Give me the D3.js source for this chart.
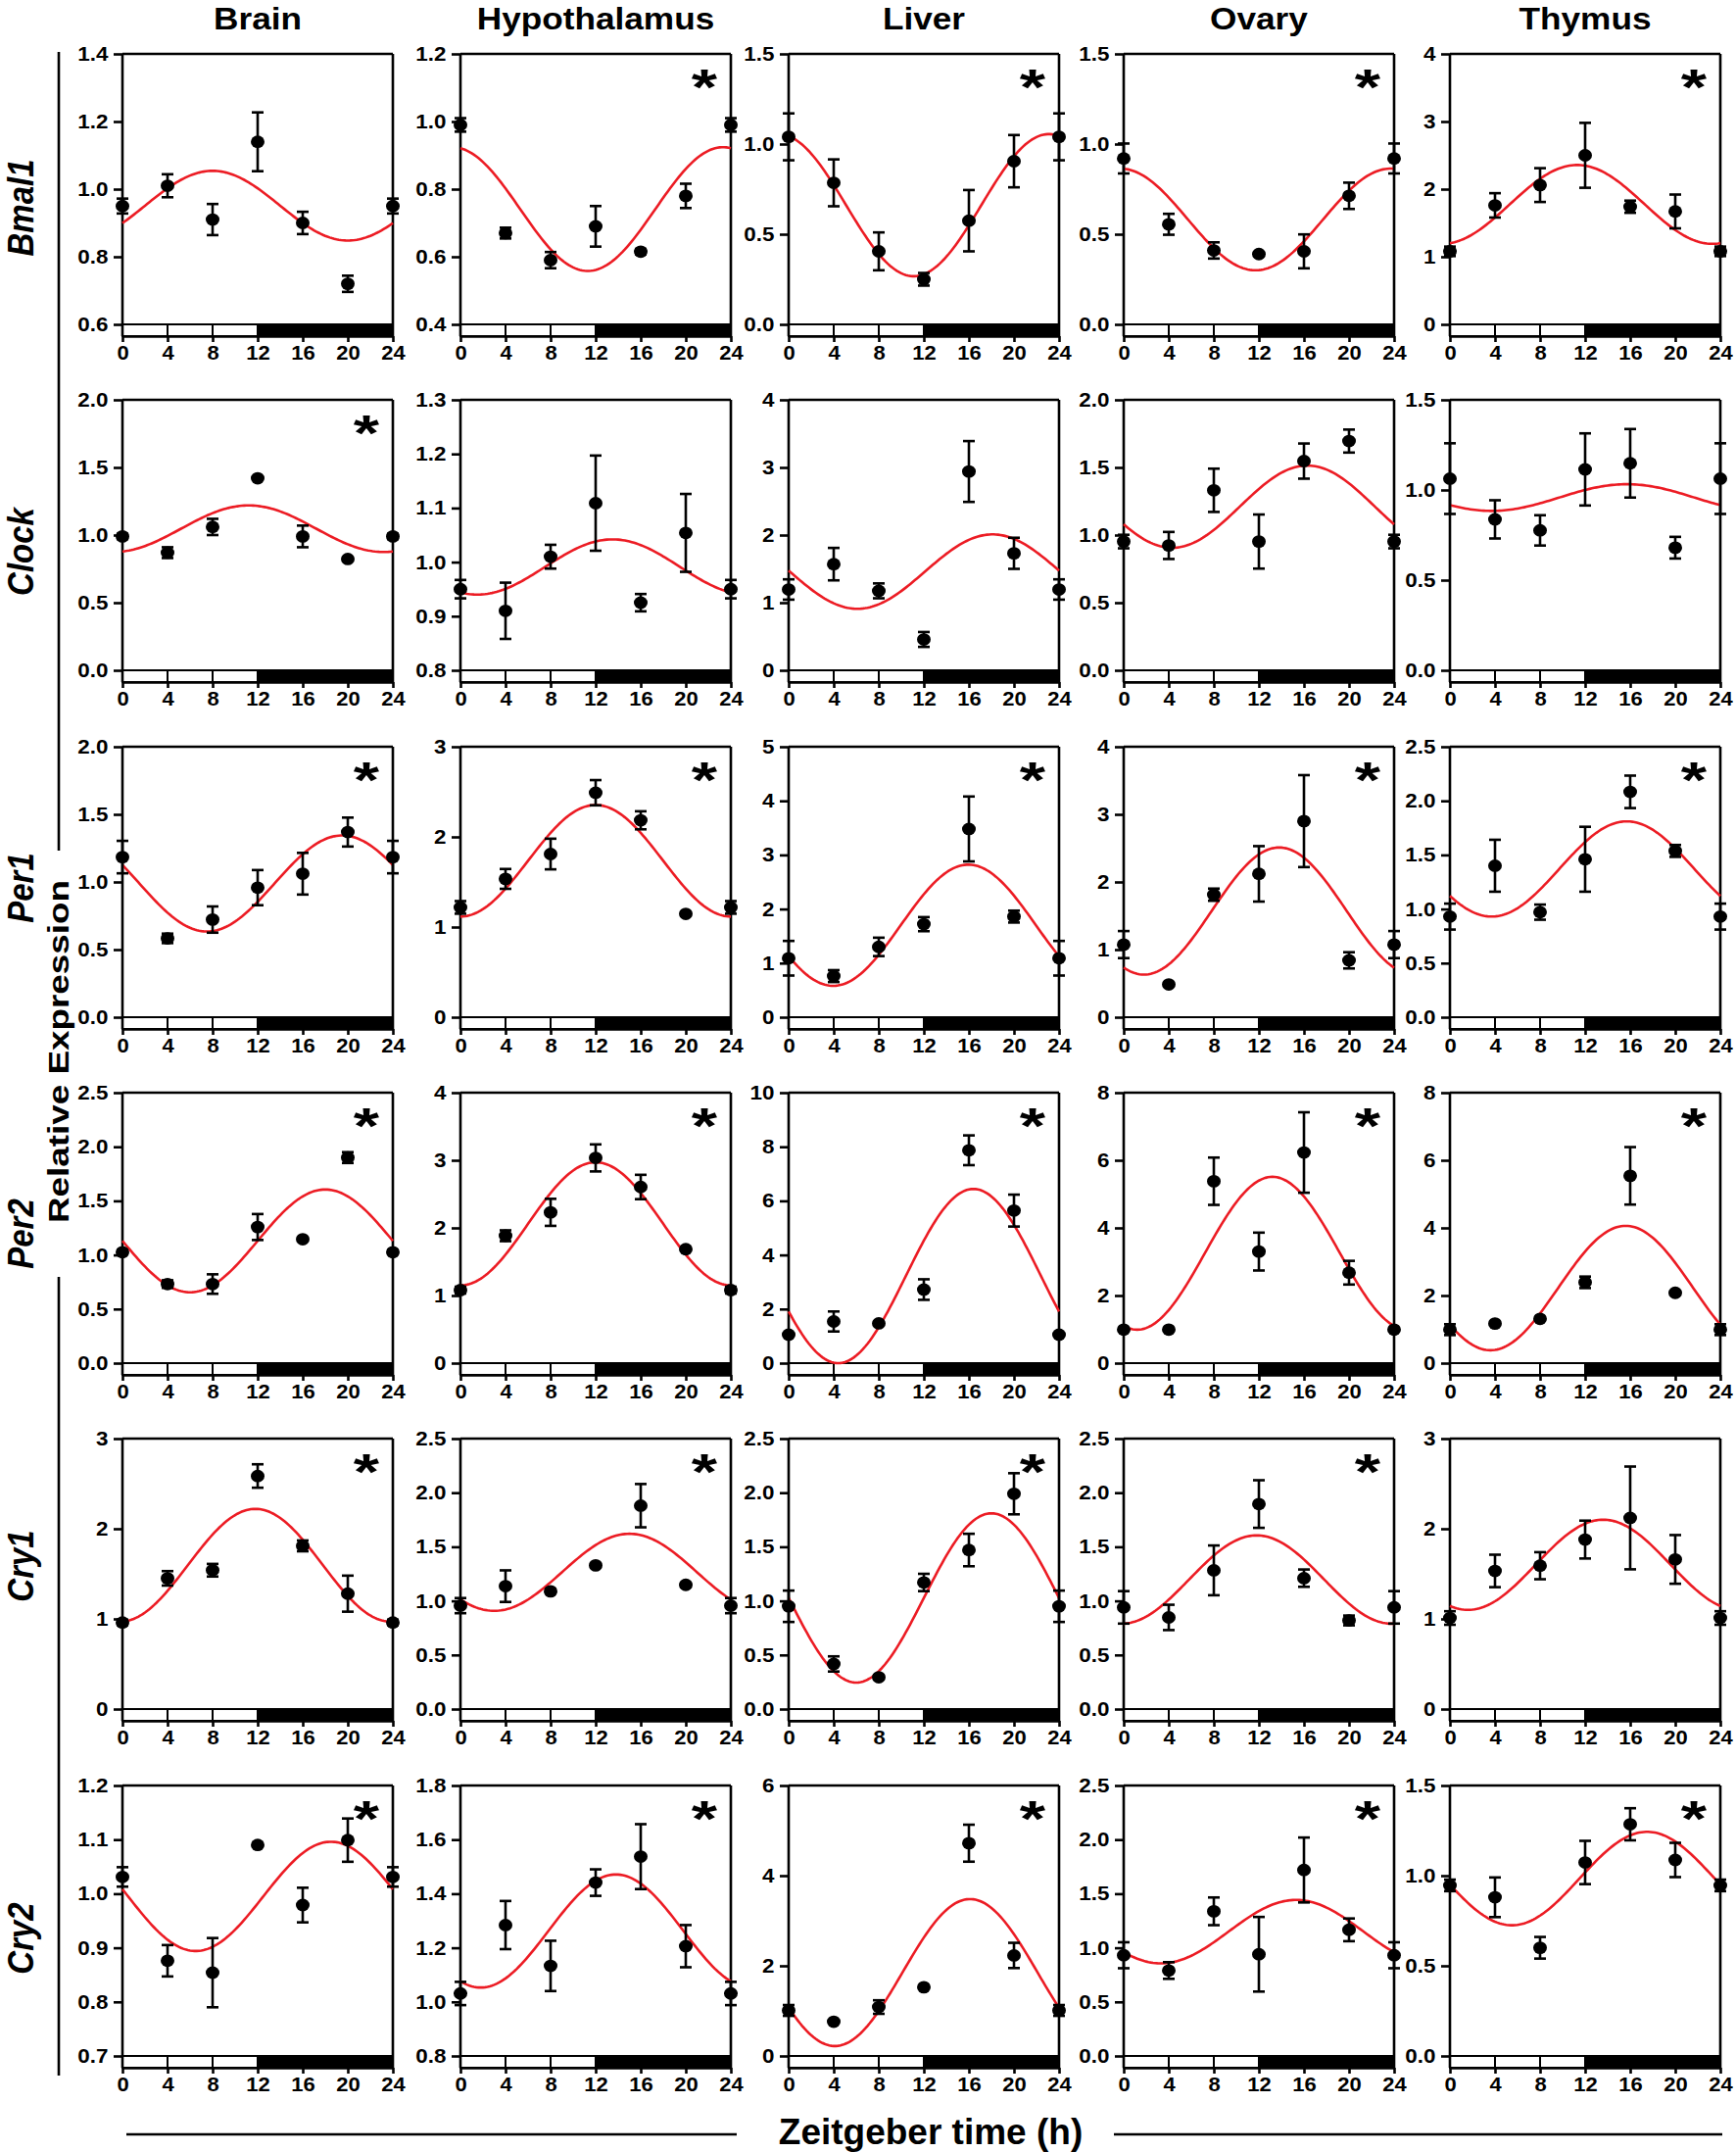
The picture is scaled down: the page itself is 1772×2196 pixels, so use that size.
<!DOCTYPE html>
<html><head><meta charset="utf-8">
<script src="https://cdn.jsdelivr.net/npm/d3@7/dist/d3.min.js"></script>
<style>body{margin:0;background:#fff}svg{display:block}</style>
</head><body>
<svg id="chart" width="1772" height="2196"></svg>
<script>
// ---------------- DATA ----------------
const tissues = ["Brain", "Hypothalamus", "Liver", "Ovary", "Thymus"];
const genes = ["Bmal1", "Clock", "Per1", "Per2", "Cry1", "Cry2"];
const times = [0, 4, 8, 12, 16, 20, 24];
const xTicks = [0, 4, 8, 12, 16, 20, 24];
const lightPhase = [0, 12];
const darkPhase = [12, 24];
const lightDividers = [4, 8];
const xTitle = "Zeitgeber time (h)";
const yTitle = "Relative Expression";

// y tick values per tissue (Brain, Hypothalamus, Liver, Ovary, Thymus)
const bmal1Ticks = [[0.6,0.8,1.0,1.2,1.4],[0.4,0.6,0.8,1.0,1.2],[0,0.5,1.0,1.5],[0,0.5,1.0,1.5],[0,1,2,3,4]];
const clockTicks = [[0,0.5,1.0,1.5,2.0],[0.8,0.9,1.0,1.1,1.2,1.3],[0,1,2,3,4],[0,0.5,1.0,1.5,2.0],[0,0.5,1.0,1.5]];
const per1Ticks  = [[0,0.5,1.0,1.5,2.0],[0,1,2,3],[0,1,2,3,4,5],[0,1,2,3,4],[0,0.5,1.0,1.5,2.0,2.5]];
const per2Ticks  = [[0,0.5,1.0,1.5,2.0,2.5],[0,1,2,3,4],[0,2,4,6,8,10],[0,2,4,6,8],[0,2,4,6,8]];
const cry1Ticks  = [[0,1,2,3],[0,0.5,1.0,1.5,2.0,2.5],[0,0.5,1.0,1.5,2.0,2.5],[0,0.5,1.0,1.5,2.0,2.5],[0,1,2,3]];
const cry2Ticks  = [[0.7,0.8,0.9,1.0,1.1,1.2],[0.8,1.0,1.2,1.4,1.6,1.8],[0,2,4,6],[0,0.5,1.0,1.5,2.0,2.5],[0,0.5,1.0,1.5]];

// means at ZT 0,4,8,12,16,20,24
const bmal1Means = [[0.95,1.01,0.91,1.14,0.90,0.72,0.95],[0.99,0.67,0.59,0.69,0.615,0.78,0.99],[1.04,0.785,0.405,0.25,0.575,0.905,1.04],[0.92,0.555,0.41,0.39,0.405,0.713,0.92],[1.08,1.76,2.06,2.5,1.74,1.67,1.08]];
const bmal1Sems  = [[0.022,0.034,0.046,0.087,0.033,0.024,0.022],[0.02,0.016,0.024,0.06,0.008,0.036,0.02],[0.13,0.13,0.105,0.035,0.17,0.145,0.13],[0.083,0.058,0.045,0.01,0.094,0.073,0.083],[0.07,0.18,0.25,0.48,0.09,0.25,0.07]];
const clockMeans = [[0.99,0.87,1.06,1.42,0.99,0.823,0.99],[0.95,0.91,1.01,1.109,0.925,1.054,0.95],[1.195,1.57,1.175,0.456,2.94,1.73,1.195],[0.952,0.923,1.331,0.952,1.547,1.695,0.952],[1.063,0.837,0.776,1.114,1.148,0.68,1.063]];
const clockSems  = [[0.02,0.04,0.06,0.01,0.08,0.01,0.02],[0.017,0.052,0.022,0.088,0.016,0.072,0.017],[0.15,0.24,0.11,0.11,0.45,0.23,0.15],[0.05,0.1,0.16,0.2,0.13,0.085,0.05],[0.196,0.106,0.084,0.2,0.19,0.06,0.196]];
const per1Means  = [[1.184,0.583,0.722,0.958,1.061,1.369,1.184],[1.218,1.534,1.81,2.49,2.184,1.146,1.218],[1.09,0.76,1.30,1.72,3.48,1.86,1.09],[1.074,0.485,1.812,2.12,2.9,0.841,1.074],[0.93,1.40,0.971,1.46,2.083,1.537,0.93]];
const per1Sems   = [[0.12,0.035,0.097,0.13,0.154,0.107,0.12],[0.07,0.11,0.17,0.14,0.1,0.02,0.07],[0.32,0.11,0.17,0.13,0.6,0.11,0.32],[0.2,0.02,0.09,0.41,0.68,0.12,0.2],[0.12,0.24,0.07,0.3,0.15,0.055,0.12]];
const per2Means  = [[1.025,0.731,0.731,1.258,1.145,1.9,1.025],[1.08,1.884,2.23,3.035,2.605,1.685,1.08],[1.05,1.54,1.47,2.72,7.87,5.64,1.05],[0.99,0.99,5.38,3.3,6.23,2.675,0.99],[0.99,1.17,1.31,2.39,5.54,2.08,0.99]];
const per2Sems   = [[0.02,0.035,0.09,0.12,0.01,0.05,0.02],[0.05,0.08,0.2,0.2,0.18,0.02,0.05],[0.05,0.37,0.05,0.38,0.55,0.59,0.05],[0.05,0.05,0.7,0.56,1.19,0.35,0.05],[0.16,0.05,0.05,0.17,0.85,0.05,0.16]];
const cry1Means  = [[0.96,1.45,1.54,2.585,1.81,1.28,0.96],[0.956,1.136,1.088,1.328,1.88,1.148,0.956],[0.95,0.417,0.294,1.17,1.47,1.99,0.95],[0.94,0.847,1.282,1.895,1.21,0.819,0.94],[1.01,1.532,1.59,1.88,2.12,1.66,1.01]];
const cry1Sems   = [[0.03,0.08,0.07,0.13,0.06,0.2,0.03],[0.07,0.146,0.02,0.02,0.2,0.02,0.07],[0.145,0.07,0.02,0.08,0.15,0.19,0.145],[0.15,0.117,0.23,0.22,0.08,0.045,0.15],[0.075,0.18,0.15,0.21,0.57,0.27,0.075]];
const cry2Means  = [[1.031,0.876,0.854,1.09,0.979,1.099,1.031],[1.031,1.284,1.133,1.441,1.537,1.206,1.031],[1.01,0.76,1.085,1.525,4.72,2.23,1.01],[0.931,0.79,1.337,0.94,1.719,1.166,0.931],[0.946,0.88,0.6,1.073,1.285,1.087,0.946]];
const cry2Sems   = [[0.018,0.029,0.064,0.003,0.032,0.04,0.018],[0.043,0.089,0.093,0.049,0.12,0.078,0.043],[0.12,0.03,0.15,0.03,0.41,0.28,0.12],[0.12,0.077,0.128,0.345,0.3,0.105,0.12],[0.032,0.11,0.06,0.12,0.089,0.095,0.032]];

// cosinor fit: [mesor, amplitude, acrophase (h)]
const bmal1Fits = [[0.951,0.103,8.0],[0.741,0.183,23.3],[0.661,0.394,23.1],[0.582,0.282,23.7],[1.774,0.583,11.3]];
const clockFits = [[1.047,0.172,11.2],[0.991,0.051,13.5],[1.46,0.55,18.1],[1.21,0.304,16.3],[0.958,0.074,15.7]];
const per1Fits  = [[0.989,0.355,19.5],[1.735,0.619,12.0],[1.70,1.12,15.95],[1.57,0.94,13.8],[1.37,0.44,15.7]];
const per2Fits  = [[1.13,0.475,18.0],[2.06,0.91,12.0],[3.22,3.22,16.4],[3.25,2.26,13.2],[2.22,1.84,15.6]];
const cry1Fits  = [[1.595,0.625,11.8],[1.264,0.356,15.0],[1.027,0.782,18.0],[1.197,0.408,11.8],[1.6,0.5,13.6]];
const cry2Fits  = [[0.995,0.101,18.5],[1.262,0.209,13.8],[1.85,1.63,16.1],[1.149,0.293,15.3],[0.984,0.259,17.5]];

// significant rhythm (asterisk)
const bmal1Sig = [0,1,1,1,1];
const clockSig = [1,0,0,0,0];
const per1Sig  = [1,1,1,1,1];
const per2Sig  = [1,1,1,1,1];
const cry1Sig  = [1,1,1,1,0];
const cry2Sig  = [1,1,1,1,1];

// table built from the arrays above
const geneTable = [
  {ticks: bmal1Ticks, means: bmal1Means, sems: bmal1Sems, fits: bmal1Fits, sig: bmal1Sig},
  {ticks: clockTicks, means: clockMeans, sems: clockSems, fits: clockFits, sig: clockSig},
  {ticks: per1Ticks,  means: per1Means,  sems: per1Sems,  fits: per1Fits,  sig: per1Sig},
  {ticks: per2Ticks,  means: per2Means,  sems: per2Sems,  fits: per2Fits,  sig: per2Sig},
  {ticks: cry1Ticks,  means: cry1Means,  sems: cry1Sems,  fits: cry1Fits,  sig: cry1Sig},
  {ticks: cry2Ticks,  means: cry2Means,  sems: cry2Sems,  fits: cry2Fits,  sig: cry2Sig}
];

// ---------------- LAYOUT ----------------
const colX = [125, 470, 805, 1147, 1480];
const rowY = [55, 408, 762, 1115, 1468, 1822];
const PW = 276, PH = 276, BAR = 12;
const rowLabelY = [212, 563, 906, 1259, 1598, 1978];
const FONT = "'Liberation Sans', Arial, Helvetica, sans-serif";
const RED = "#ec1c24";
const SW = 2.6;

const svg = d3.select("#chart");
svg.append("rect").attr("width", 1772).attr("height", 2196).attr("fill", "#fff");

// column titles
svg.selectAll("text.coltitle").data(tissues).join("text")
  .attr("class", "coltitle")
  .attr("transform", (d, i) => `translate(${colX[i] + PW / 2},30) scale(1.1,1)`)
  .attr("text-anchor", "middle")
  .attr("font-family", FONT).attr("font-weight", "bold").attr("font-size", 32)
  .text(d => d);

// row labels
svg.selectAll("text.rowlabel").data(genes).join("text")
  .attr("class", "rowlabel")
  .attr("transform", (d, i) => `translate(34,${rowLabelY[i]}) scale(1.12,1) rotate(-90)`)
  .attr("text-anchor", "middle")
  .attr("font-family", FONT).attr("font-weight", "bold").attr("font-style", "italic").attr("font-size", 33)
  .text(d => d);

// y title + side lines
svg.append("text")
  .attr("transform", "translate(70,1073) rotate(-90)")
  .attr("text-anchor", "middle")
  .attr("font-family", FONT).attr("font-weight", "bold").attr("font-size", 30)
  .attr("textLength", 350).attr("lengthAdjust", "spacingAndGlyphs")
  .text(yTitle);
svg.append("line").attr("x1", 60).attr("x2", 60).attr("y1", 53).attr("y2", 868).attr("stroke", "#000").attr("stroke-width", SW);
svg.append("line").attr("x1", 60).attr("x2", 60).attr("y1", 1303).attr("y2", 2118).attr("stroke", "#000").attr("stroke-width", SW);

// x title + side lines
svg.append("text")
  .attr("x", 950).attr("y", 2188)
  .attr("text-anchor", "middle")
  .attr("font-family", FONT).attr("font-weight", "bold").attr("font-size", 37)
  .text(xTitle);
svg.append("line").attr("x1", 129).attr("x2", 752).attr("y1", 2178).attr("y2", 2178).attr("stroke", "#000").attr("stroke-width", SW);
svg.append("line").attr("x1", 1137).attr("x2", 1758).attr("y1", 2178).attr("y2", 2178).attr("stroke", "#000").attr("stroke-width", SW);

// ---------------- PANELS ----------------
geneTable.forEach((gd, r) => {
  tissues.forEach((tissue, c) => {
    const ticks = gd.ticks[c];
    const x = d3.scaleLinear().domain([0, 24]).range([colX[c], colX[c] + PW]);
    const y = d3.scaleLinear().domain(d3.extent(ticks)).range([rowY[r] + PH, rowY[r]]);
    const y0 = y(ticks[0]);
    const yTop = y(ticks[ticks.length - 1]);
    const g = svg.append("g");

    // light/dark bar
    g.append("rect").attr("x", x(lightPhase[0])).attr("y", y0)
      .attr("width", x(lightPhase[1]) - x(lightPhase[0])).attr("height", BAR)
      .attr("fill", "#fff").attr("stroke", "#000").attr("stroke-width", 2);
    g.append("rect").attr("x", x(darkPhase[0])).attr("y", y0)
      .attr("width", x(darkPhase[1]) - x(darkPhase[0])).attr("height", BAR)
      .attr("fill", "#000").attr("stroke", "#000").attr("stroke-width", 2);
    g.selectAll("line.div").data(lightDividers).join("line")
      .attr("x1", d => x(d)).attr("x2", d => x(d)).attr("y1", y0).attr("y2", y0 + BAR)
      .attr("stroke", "#000").attr("stroke-width", 2);

    // x axis
    const fmtX = d3.format("d");
    const xa = g.append("g").attr("transform", `translate(0,${y0 + BAR})`)
      .call(d3.axisBottom(x).tickValues(xTicks).tickFormat(fmtX).tickSize(6).tickSizeOuter(0).tickPadding(4));
    xa.select(".domain").attr("stroke-width", SW);
    xa.selectAll(".tick line").attr("stroke-width", SW);
    xa.selectAll(".tick text").attr("font-family", FONT).attr("font-weight", "bold").attr("font-size", 20)
      .attr("fill", "#000").attr("transform", "scale(1.1,1)");

    // y axis
    const step = ticks[1] - ticks[0];
    const fmtY = Number.isInteger(step) ? d3.format("d") : d3.format(".1f");
    const ya = g.append("g").attr("transform", `translate(${x(0)},0)`)
      .call(d3.axisLeft(y).tickValues(ticks).tickFormat(fmtY).tickSize(9).tickSizeOuter(0).tickPadding(4));
    ya.select(".domain").remove();
    ya.selectAll(".tick line").attr("stroke-width", SW);
    ya.selectAll(".tick text").attr("font-family", FONT).attr("font-weight", "bold").attr("font-size", 20)
      .attr("fill", "#000").attr("transform", "scale(1.12,1)");

    // frame
    g.append("line").attr("x1", x(0)).attr("x2", x(0)).attr("y1", yTop).attr("y2", y0 + BAR).attr("stroke", "#000").attr("stroke-width", SW);
    g.append("line").attr("x1", x(24)).attr("x2", x(24)).attr("y1", yTop).attr("y2", y0 + BAR).attr("stroke", "#000").attr("stroke-width", SW);
    g.append("line").attr("x1", x(0)).attr("x2", x(24)).attr("y1", yTop).attr("y2", yTop).attr("stroke", "#000").attr("stroke-width", SW);

    // cosinor fit curve
    const [mesor, amp, acro] = gd.fits[c];
    const ts = d3.range(0, 24.0001, 0.2);
    const line = d3.line().x(t => x(t)).y(t => y(mesor + amp * Math.cos(2 * Math.PI * (t - acro) / 24)));
    g.append("path").datum(ts).attr("d", line).attr("fill", "none").attr("stroke", RED).attr("stroke-width", 2.6);

    // error bars + points
    const pts = times.map((t, i) => ({t, m: gd.means[c][i], s: gd.sems[c][i]}));
    const eb = g.selectAll("g.eb").data(pts).join("g").attr("class", "eb");
    eb.append("line").attr("x1", d => x(d.t)).attr("x2", d => x(d.t))
      .attr("y1", d => y(d.m - d.s)).attr("y2", d => y(d.m + d.s)).attr("stroke", "#000").attr("stroke-width", SW);
    eb.append("line").attr("x1", d => x(d.t) - 6).attr("x2", d => x(d.t) + 6)
      .attr("y1", d => y(d.m + d.s)).attr("y2", d => y(d.m + d.s)).attr("stroke", "#000").attr("stroke-width", SW);
    eb.append("line").attr("x1", d => x(d.t) - 6).attr("x2", d => x(d.t) + 6)
      .attr("y1", d => y(d.m - d.s)).attr("y2", d => y(d.m - d.s)).attr("stroke", "#000").attr("stroke-width", SW);
    eb.append("ellipse").attr("cx", d => x(d.t)).attr("cy", d => y(d.m)).attr("rx", 7).attr("ry", 6.4).attr("fill", "#000");

    // significance asterisk
    if (gd.sig[c]) {
      g.append("text").attr("transform", `translate(${x(24) - 27},${yTop + 52}) scale(1.3,1)`)
        .attr("text-anchor", "middle").attr("font-family", FONT).attr("font-weight", "bold").attr("font-size", 52)
        .text("*");
    }
  });
});
</script>
</body></html>
